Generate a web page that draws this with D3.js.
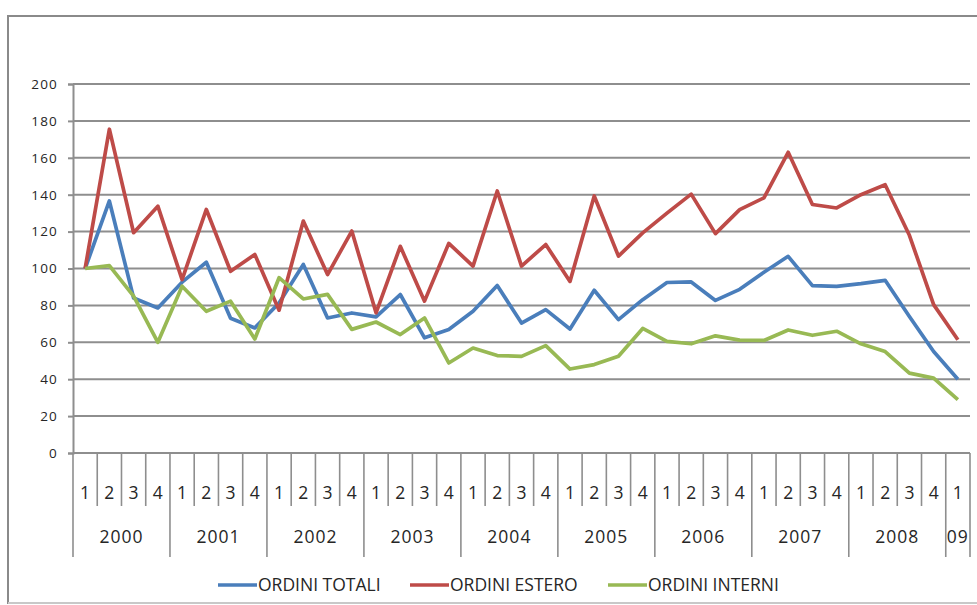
<!DOCTYPE html>
<html>
<head>
<meta charset="utf-8">
<script src="https://cdn.jsdelivr.net/npm/d3@7"></script>
<style>
  body { margin: 0; background: #fff; }
  text { font-family: "Open Sans", "Liberation Sans", sans-serif; fill: #262626; }
</style>
</head>
<body>
<script>
// quarterly indices, 2000 Q1 = 100
var quarters = ['1','2','3','4','1','2','3','4','1','2','3','4','1','2','3','4','1','2','3','4',
  '1','2','3','4','1','2','3','4','1','2','3','4','1','2','3','4','1'];
var years = ['2000','2001','2002','2003','2004','2005','2006','2007','2008','09'];
var yearQuarters = [4, 4, 4, 4, 4, 4, 4, 4, 4, 1];
var yTicks = [0, 20, 40, 60, 80, 100, 120, 140, 160, 180, 200];

var totali = [100, 136.6, 84, 78.6, 92.6, 103.4, 73, 67.8, 81.3, 102.2, 73.2, 75.9, 73.8, 85.9, 62.4, 66.9,
  76.8, 90.8, 70.4, 77.7, 67.2, 88.2, 72.3, 83.1, 92.4, 92.7, 82.7, 88.7, 98, 106.6, 90.7, 90.3, 91.8, 93.6, 74, 55, 40];
var estero = [100, 175.5, 119.4, 133.8, 94, 132, 98.5, 107.6, 77.4, 125.7, 96.7, 120.3, 76, 112, 82.3, 113.6,
  101.3, 142, 101.3, 113, 93, 139.3, 106.7, 119.3, 130, 140.3, 118.9, 131.9, 138.3, 163, 134.7, 132.8, 140, 145.4, 118, 80.4, 61.4];
var interni = [100, 101.6, 85, 60, 90.4, 76.8, 82.3, 61.8, 95, 83.5, 86, 67, 71, 64.2, 73.2, 48.8,
  56.9, 52.8, 52.4, 58.2, 45.5, 47.9, 52.4, 67.5, 60.5, 59.2, 63.5, 61.2, 61, 66.7, 63.8, 66, 59.2, 55, 43.3, 40.6, 28.9];

var seriesNames = ['ORDINI TOTALI', 'ORDINI ESTERO', 'ORDINI INTERNI'];
var seriesColors = ['#4a7ebb', '#be4b48', '#98b954'];
var series = [totali, estero, interni];

var width = 977;
var height = 605;
// plot box (window.top is reserved, so use own names)
var plotL = 73, plotR = 970, plotT = 84, plotB = 453;
var gridColor = '#8e8e8e';

var svg = d3.select('body').append('svg')
  .attr('width', width)
  .attr('height', height);

// outer frame of the chart
svg.append('path')
  .attr('d', 'M8,604 L8,16 L977,16')
  .attr('fill', 'none')
  .attr('stroke', '#8a8a8a')
  .attr('stroke-width', 2);
svg.append('line')
  .attr('x1', 8).attr('x2', 977).attr('y1', 603).attr('y2', 603)
  .attr('stroke', '#c8c8c8').attr('stroke-width', 2);

var x = d3.scaleBand()
  .domain(d3.range(quarters.length))
  .range([plotL, plotR]);

var y = d3.scaleLinear()
  .domain([0, 200])
  .range([plotB, plotT]);

// horizontal gridlines
svg.append('g').selectAll('line').data(yTicks.slice(1))
  .enter()
  .append('line')
  .attr('x1', plotL).attr('x2', plotR)
  .attr('y1', function (d) { return y(d); })
  .attr('y2', function (d) { return y(d); })
  .attr('stroke', gridColor)
  .attr('stroke-width', 2);

// y axis
var yAxis = svg.append('g')
  .attr('transform', 'translate(' + plotL + ',0)')
  .call(d3.axisLeft(y).tickValues(yTicks).tickSize(5).tickPadding(10));
yAxis.select('.domain').attr('stroke', gridColor).attr('stroke-width', 2);
yAxis.selectAll('.tick line').attr('stroke', gridColor).attr('stroke-width', 2);
yAxis.selectAll('.tick text')
  .style('font-size', '13.5px')
  .style('letter-spacing', '1.2px')
  .attr('fill', '#262626');

// category axis: baseline, quarter ticks, year separators
svg.append('line')
  .attr('x1', plotL).attr('x2', plotR)
  .attr('y1', plotB).attr('y2', plotB)
  .attr('stroke', gridColor).attr('stroke-width', 2);

var yearStarts = [0];
yearQuarters.forEach(function (n, i) { yearStarts.push(yearStarts[i] + n); });

var bounds = d3.range(quarters.length + 1);
svg.append('g').selectAll('line').data(bounds)
  .enter()
  .append('line')
  .attr('x1', function (d) { return d < quarters.length ? x(d) : plotR; })
  .attr('x2', function (d) { return d < quarters.length ? x(d) : plotR; })
  .attr('y1', plotB)
  .attr('y2', function (d) { return yearStarts.indexOf(d) >= 0 ? 557 : 506; })
  .attr('stroke', gridColor)
  .attr('stroke-width', 1.6);

svg.append('g').selectAll('text').data(quarters)
  .enter()
  .append('text')
  .attr('x', function (d, i) { return x(i) + x.bandwidth() / 2; })
  .attr('y', 499)
  .attr('text-anchor', 'middle')
  .style('font-size', '17.5px')
  .text(function (d) { return d; });

svg.append('g').selectAll('text').data(years)
  .enter()
  .append('text')
  .attr('x', function (d, i) {
    var a = x(yearStarts[i]);
    var b = yearStarts[i + 1] < quarters.length ? x(yearStarts[i + 1]) : plotR;
    return (a + b) / 2;
  })
  .attr('y', 543)
  .attr('text-anchor', 'middle')
  .style('font-size', '17.5px')
  .style('letter-spacing', '1px')
  .text(function (d) { return d; });

// the three lines
var line = d3.line()
  .x(function (d, i) { return x(i) + x.bandwidth() / 2; })
  .y(function (d) { return y(d); });

svg.append('g').selectAll('path').data(series)
  .enter()
  .append('path')
  .attr('d', function (d) { return line(d); })
  .attr('fill', 'none')
  .attr('stroke', function (d, i) { return seriesColors[i]; })
  .attr('stroke-width', 3.7)
  .attr('stroke-linejoin', 'round');

// legend
var legendX = [218, 410, 608];
var legend = svg.append('g').selectAll('g').data(seriesNames)
  .enter()
  .append('g')
  .attr('transform', function (d, i) { return 'translate(' + legendX[i] + ',585)'; });

legend.append('line')
  .attr('x1', 0).attr('x2', 39)
  .attr('stroke', function (d, i) { return seriesColors[i]; })
  .attr('stroke-width', 3.7);

legend.append('text')
  .attr('x', 40)
  .attr('y', 6)
  .style('font-size', '17.5px')
  .text(function (d) { return d; });
</script>
</body>
</html>
